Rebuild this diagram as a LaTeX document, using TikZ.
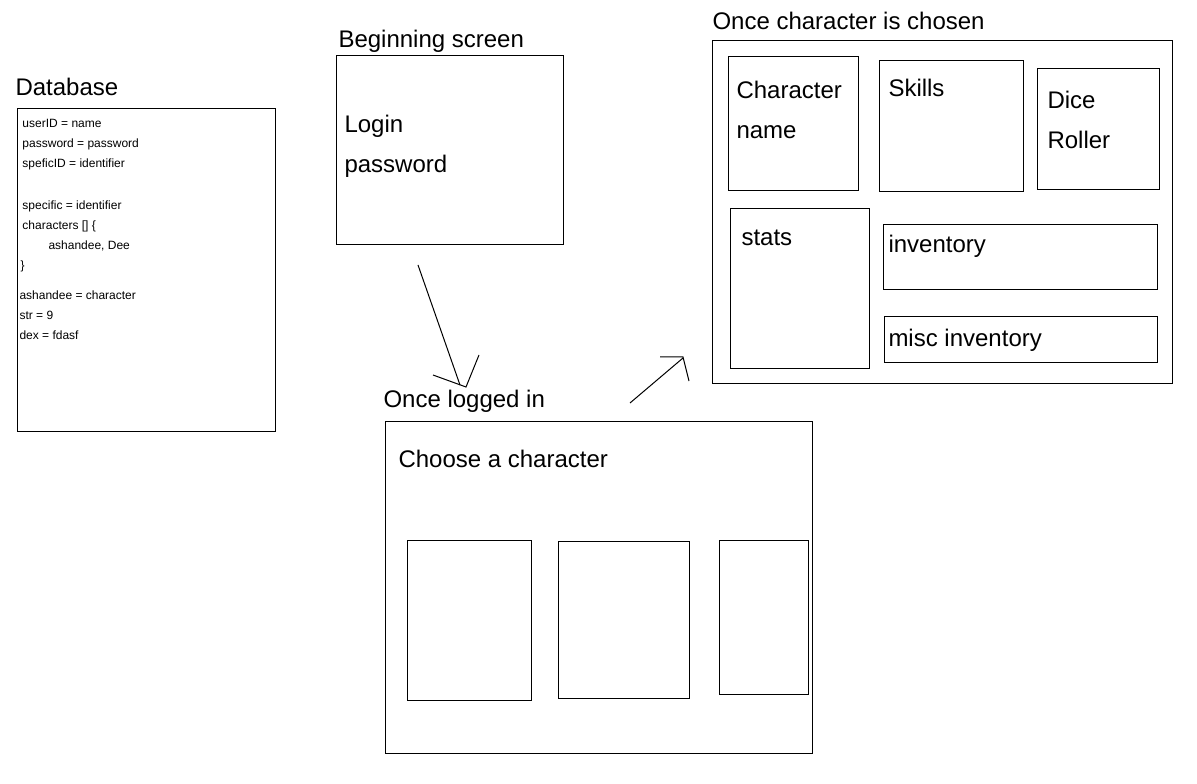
\documentclass[tikz,border=0pt]{standalone}
\usepackage{fontspec}
\setmainfont{Liberation Sans}
\usetikzlibrary{fit}

\begin{document}
\begin{tikzpicture}[
  x=0.75pt,y=-0.75pt,
  line width=0.75pt,
  box/.style={draw,inner sep=0pt,fit={#1}},
  big/.style={font=\fontsize{18}{21}\selectfont,anchor=base west,inner sep=0pt},
  small/.style={font=\fontsize{9}{11}\selectfont,anchor=base west,inner sep=0pt}]
\useasboundingbox (0,0) rectangle (1197,784);

% database (left)
\node[big] (dbt) at (15,96) {Database};
\node[box={(17,109) (275,432)}] (db) {};
\node[small] (d1) at (22,128) {userID = name};
\node[small] (d2) at (22,148) {password = password};
\node[small] (d3) at (22,168) {speficID = identifier};
\node[small] (d4) at (22,210) {specific = identifier};
\node[small] (d5) at (22,230) {characters [] \{};
\node[small] (d6) at (48,250) {ashandee, Dee};
\node[small] (d7) at (20,270) {\}};
\node[small] (d8) at (19,300) {ashandee = character};
\node[small] (d9) at (19,320) {str = 9};
\node[small] (d10) at (19,340) {dex = fdasf};

% beginning screen
\node[big] (bst) at (338,48) {Beginning screen};
\node[box={(336,56) (563,245)}] (bs) {};
\node[big] (login) at (344,133) {Login};
\node[big] (pw) at (344,173) {password};

% once logged in
\node[big] (lit) at (383,408) {Once logged in};
\node[box={(385,422) (812,753)}] (li) {};
\node[big] (choose) at (398,468) {Choose a character};
\node[box={(407,540) (531,700)}] (c1) {};
\node[box={(558,541) (689,698)}] (c2) {};
\node[box={(719,540) (808,694)}] (c3) {};

% once character is chosen
\node[big] (cct) at (712,30) {Once character is chosen};
\node[box={(712,41) (1172,384)}] (cc) {};
\node[box={(728,57) (858,191)}] (cn) {};
\node[big] at (736,99) {Character};
\node[big] at (736,139) {name};
\node[box={(879,61) (1023,192)}] (sk) {};
\node[big] at (888,97) {Skills};
\node[box={(1037,69) (1159,190)}] (dr) {};
\node[big] at (1047,109) {Dice};
\node[big] at (1047,149) {Roller};
\node[box={(730,209) (869,369)}] (st) {};
\node[big] at (741,246) {stats};
\node[box={(883,225) (1157,290)}] (inv) {};
\node[big] at (888,253) {inventory};
\node[box={(884,317) (1157,363)}] (misc) {};
\node[big] at (888,347) {misc inventory};

% hand drawn arrows
\coordinate (a1s) at (418,265);
\coordinate (a1e) at (460,385);
\coordinate (a1l) at (433,375);
\coordinate (a1t) at (466,387);
\coordinate (a1r) at (479,355);
\draw (a1s) -- (a1e);
\draw (a1l) -- (a1t) -- (a1r);

\coordinate (a2s) at (630,403);
\coordinate (a2e) at (683,358);
\coordinate (a2l) at (660,357);
\coordinate (a2t) at (683,357);
\coordinate (a2r) at (689,381);
\draw (a2s) -- (a2e);
\draw (a2l) -- (a2t) -- (a2r);
\end{tikzpicture}
\end{document}
